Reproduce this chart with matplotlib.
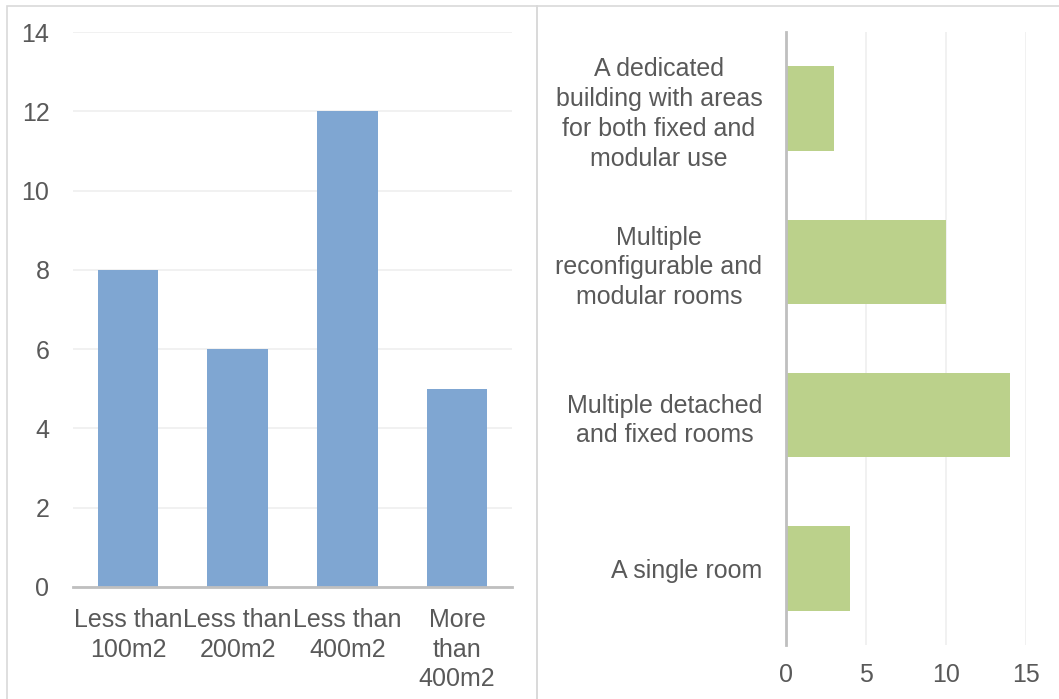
import matplotlib.pyplot as plt
from matplotlib.patches import Rectangle

plt.rcParams['font.family'] = ['Liberation Sans', 'DejaVu Sans']

size_labels = ['Less than\n100m2', 'Less than\n200m2', 'Less than\n400m2', 'More\nthan\n400m2']
size_counts = [8, 6, 12, 5]

layout_labels = ['A single room', 'Multiple detached\nand fixed rooms',
                 'Multiple\nreconfigurable and\nmodular rooms',
                 'A dedicated\nbuilding with areas\nfor both fixed and\nmodular use']
layout_counts = [4, 14, 10, 3]

TEXT = '#595959'
GRID = '#EFEFEF'
AXIS = '#BFBFBF'
FS = 18
W, H = 1059, 699

fig = plt.figure(figsize=(W / 100, H / 100), dpi=100)

# panel frames
fig.patches.append(Rectangle((7 / W, -0.1), 530 / W, 1.1 - 6 / H, transform=fig.transFigure,
                             fill=False, edgecolor='#D9D9D9', linewidth=1.2))
fig.patches.append(Rectangle((537 / W, -0.1), 0.6, 1.1 - 6 / H, transform=fig.transFigure,
                             fill=False, edgecolor='#D9D9D9', linewidth=1.2))

# left: vertical bars
ax1 = fig.add_axes([73 / W, 1 - 587 / H, (512 - 73) / W, (587 - 32) / H])
x = range(len(size_counts))
ax1.bar(x, size_counts, width=0.55, color='#7FA6D2', zorder=2)
ax1.set_xlim(-0.5, len(size_counts) - 0.5)
ax1.set_ylim(0, 14)
ax1.set_yticks(range(0, 15, 2))
ax1.set_xticks(list(x))
ax1.set_xticklabels(size_labels, linespacing=1.3)
ax1.grid(axis='y', color=GRID, linewidth=1.2, zorder=0)
for s in ['left', 'right', 'top']:
    ax1.spines[s].set_visible(False)
ax1.spines['bottom'].set_color(AXIS)
ax1.spines['bottom'].set_linewidth(2)
ax1.spines['bottom'].set_zorder(3)
ax1.tick_params(axis='y', length=0, pad=17, labelsize=FS, labelcolor=TEXT)
ax1.tick_params(axis='x', length=0, pad=15, labelsize=FS, labelcolor=TEXT)

# right: horizontal bars
ax2 = fig.add_axes([786 / W, 1 - 645 / H, (1026 - 786) / W, (645 - 32) / H])
y = range(len(layout_counts))
ax2.barh(y, layout_counts, height=0.55, color='#BBD18B', zorder=2)
ax2.set_ylim(-0.5, len(layout_counts) - 0.5)
ax2.set_xlim(0, 15)
ax2.set_xticks([0, 5, 10, 15])
ax2.set_yticks(list(y))
ax2.set_yticklabels(layout_labels, ha='right', multialignment='center', linespacing=1.3)
ax2.grid(axis='x', color=GRID, linewidth=1.2, zorder=0)
for s in ['bottom', 'right', 'top']:
    ax2.spines[s].set_visible(False)
ax2.spines['left'].set_color(AXIS)
ax2.spines['left'].set_linewidth(2)
ax2.spines['left'].set_zorder(3)
ax2.tick_params(axis='y', length=0, pad=17, labelsize=FS, labelcolor=TEXT)
ax2.tick_params(axis='x', length=0, pad=13, labelsize=FS, labelcolor=TEXT)

fig.savefig('out.png', dpi=100)
